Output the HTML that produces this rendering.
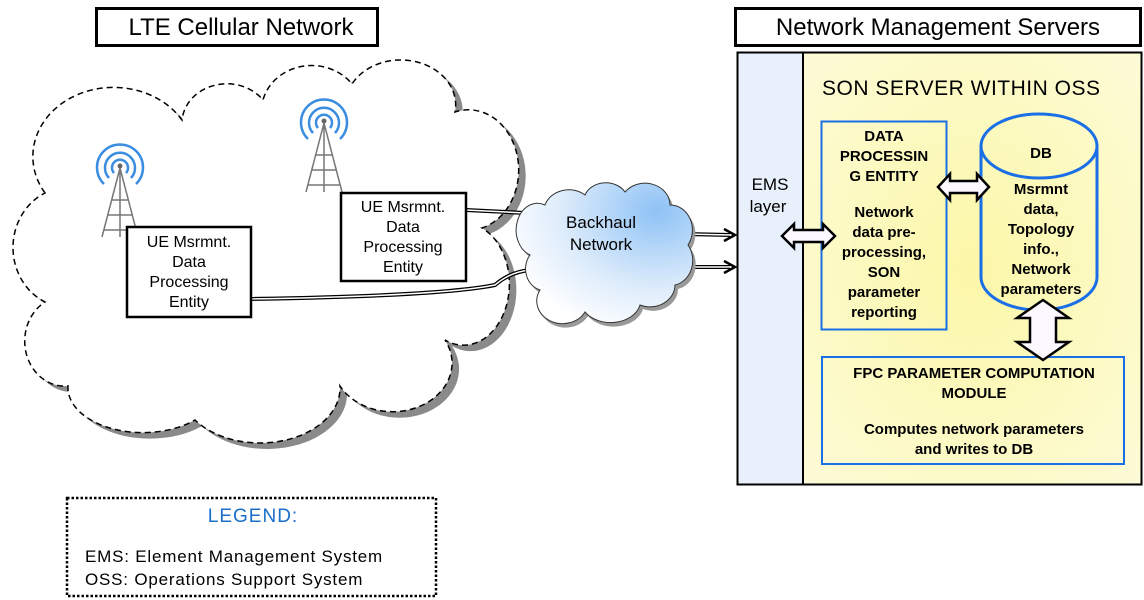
<!DOCTYPE html>
<html><head><meta charset="utf-8"><style>
html,body{margin:0;padding:0;background:#fff;}
svg{display:block;font-family:"Liberation Sans",sans-serif;}
</style></head><body>
<svg width="1144" height="600" viewBox="0 0 1144 600" xmlns="http://www.w3.org/2000/svg">
<defs>
<radialGradient id="bh" cx="0.8" cy="0.2" r="0.9">
<stop offset="0" stop-color="#8ec2f5"/><stop offset="0.6" stop-color="#dcebfb"/><stop offset="1" stop-color="#ffffff"/>
</radialGradient>
<radialGradient id="yl" cx="0.5" cy="0.5" r="0.7">
<stop offset="0" stop-color="#fcf7a8"/><stop offset="1" stop-color="#fdfbd8"/>
</radialGradient>
<path id="cloud" d="M45,193 A70,60 0 0 1 182,120 A45,40 0 0 1 263,100 A50,45 0 0 1 352,84 A55,45 0 0 1 455,112 A50,60 0 0 1 482,228 A45,60 0 0 1 445,340 A55,45 0 0 1 340,386 A80,55 0 0 1 195,420 A75,45 0 0 1 68,386 A40,45 0 0 1 45,302 A55,60 0 0 1 45,193 Z"/>
<path id="bcl" d="M545,205 A25,22 0 0 1 585,195 A22,18 0 0 1 625,192 A25,22 0 0 1 670,205 A22,25 0 0 1 688,245 A22,25 0 0 1 675,285 A25,22 0 0 1 640,305 A30,22 0 0 1 585,312 A25,22 0 0 1 540,290 A20,22 0 0 1 530,255 A20,25 0 0 1 545,205 Z"/>
</defs>
<rect x="96.5" y="8.5" width="281" height="37" fill="#fff" stroke="#000" stroke-width="3"/>
<text x="241" y="35" font-size="24" text-anchor="middle">LTE Cellular Network</text>
<rect x="735.5" y="8.5" width="405" height="37" fill="#fff" stroke="#000" stroke-width="3"/>
<text x="938" y="35" font-size="24" text-anchor="middle">Network Management Servers</text>

<use href="#cloud" transform="translate(7,6)" fill="#8a8a8a"/>
<use href="#cloud" fill="#fff" stroke="#000" stroke-width="1.5" stroke-dasharray="6,4"/>

<g stroke="#777" stroke-width="1.5" fill="none">
<path d="M120,168 L102,237 M120,168 L138,237 M120,168 L120,237 M108,215 L132,215 M111,200 L129,200 M104,230 L136,230"/>
<path d="M324,123 L306,192 M324,123 L342,192 M324,123 L324,192 M312,170 L336,170 M315,155 L333,155 M308,185 L340,185"/>
</g>
<g fill="none" stroke="#3b8de0" stroke-width="2.5">
<path d="M114,173 A8,8 0 1 1 126,173"/><path d="M109,178 A15,15 0 1 1 131,178"/><path d="M104,184 A23,23 0 1 1 136,184"/>
<path d="M318,128 A8,8 0 1 1 330,128"/><path d="M313,133 A15,15 0 1 1 335,133"/><path d="M308,139 A23,23 0 1 1 340,139"/>
</g>
<circle cx="120" cy="166" r="2.5" fill="#666"/><circle cx="324" cy="121" r="2.5" fill="#666"/>

<g fill="none" stroke="#000" stroke-width="4"><path d="M466,210 L545,214"/><path d="M250,299 Q440,296 495,285 Q510,272 530,270"/><path d="M685,234 L730,235"/><path d="M685,267 L730,267"/></g>
<g fill="none" stroke="#fff" stroke-width="1.5"><path d="M466,210 L545,214"/><path d="M250,299 Q440,296 495,285 Q510,272 530,270"/><path d="M685,234 L730,235"/><path d="M685,267 L730,267"/></g>
<path d="M724,229 L735,235 L724,241" fill="none" stroke="#000" stroke-width="2.5"/>
<path d="M724,261 L735,267 L724,273" fill="none" stroke="#000" stroke-width="2.5"/>

<use href="#bcl" transform="translate(3,4)" fill="#999"/>
<use href="#bcl" fill="url(#bh)" stroke="#333" stroke-width="1"/>
<text x="601" y="228" font-size="17" text-anchor="middle">Backhaul</text>
<text x="601" y="250" font-size="17" text-anchor="middle">Network</text>

<rect x="127" y="227" width="124" height="90" fill="#fff" stroke="#000" stroke-width="2.5"/>
<g font-size="16" text-anchor="middle"><text x="189" y="247">UE Msrmnt.</text><text x="189" y="267">Data</text><text x="189" y="287">Processing</text><text x="189" y="307">Entity</text></g>
<rect x="341" y="193" width="125" height="88" fill="#fff" stroke="#000" stroke-width="2.5"/>
<g font-size="16" text-anchor="middle"><text x="403" y="212">UE Msrmnt.</text><text x="403" y="232">Data</text><text x="403" y="252">Processing</text><text x="403" y="272">Entity</text></g>

<rect x="737" y="52" width="66" height="433" fill="#e8f0fb"/>
<rect x="803" y="52" width="339" height="433" fill="url(#yl)"/>
<rect x="737.5" y="52.5" width="404" height="432" fill="none" stroke="#000" stroke-width="2"/>
<line x1="803" y1="52" x2="803" y2="485" stroke="#000" stroke-width="2"/>
<text x="770" y="190" font-size="17" text-anchor="middle">EMS</text>
<text x="768" y="212" font-size="17" text-anchor="middle">layer</text>
<text x="822" y="95" font-size="21" letter-spacing="0.5">SON SERVER WITHIN OSS</text>

<rect x="821.5" y="121.5" width="125" height="208" fill="none" stroke="#1a6fe6" stroke-width="2"/>
<g font-size="15" font-weight="bold" text-anchor="middle">
<text x="884" y="141">DATA</text><text x="884" y="161">PROCESSIN</text><text x="884" y="181">G ENTITY</text>
<text x="884" y="217">Network</text><text x="884" y="237">data pre-</text><text x="884" y="257">processing,</text><text x="884" y="277">SON</text><text x="884" y="297">parameter</text><text x="884" y="317">reporting</text>
</g>

<path d="M981,146 L981,277 A58,33 0 0 0 1097,277 L1097,146" fill="none" stroke="#1a6fe6" stroke-width="3"/>
<ellipse cx="1039" cy="146" rx="58" ry="32" fill="none" stroke="#1a6fe6" stroke-width="3"/>
<g font-size="15" font-weight="bold" text-anchor="middle">
<text x="1041" y="158">DB</text>
<text x="1041" y="194">Msrmnt</text><text x="1041" y="214">data,</text><text x="1041" y="234">Topology</text><text x="1041" y="254">info.,</text><text x="1041" y="274">Network</text><text x="1041" y="294">parameters</text>
</g>

<rect x="822" y="357" width="302" height="107" fill="none" stroke="#1a6fe6" stroke-width="2"/>
<g font-size="15" font-weight="bold" text-anchor="middle">
<text x="974" y="378">FPC PARAMETER COMPUTATION</text><text x="974" y="398">MODULE</text>
<text x="974" y="434">Computes network parameters</text><text x="974" y="454">and writes to DB</text>
</g>

<g fill="#fcf8ff" stroke="#000" stroke-width="2.5" stroke-linejoin="miter">
<path d="M782,236 L794,224 L794,230 L823,230 L823,224 L835,236 L823,248 L823,242 L794,242 L794,248 Z"/>
<path d="M938,187 L950,174 L950,181 L977,181 L977,174 L989,187 L977,200 L977,193 L950,193 L950,200 Z"/>
<path d="M1043,300 L1069,318 L1056,318 L1056,342 L1069,342 L1043,360 L1017,342 L1030,342 L1030,318 L1017,318 Z"/>
</g>

<rect x="67" y="498" width="369" height="98" fill="#fff" stroke="#000" stroke-width="2.5" stroke-dasharray="2.5,2"/>
<text x="253" y="522" font-size="19" fill="#1a6fc9" text-anchor="middle" letter-spacing="1">LEGEND:</text>
<text x="85" y="562" font-size="17" letter-spacing="0.8">EMS: Element Management System</text>
<text x="85" y="585" font-size="17" letter-spacing="0.8">OSS: Operations Support System</text>
</svg>
</body></html>
